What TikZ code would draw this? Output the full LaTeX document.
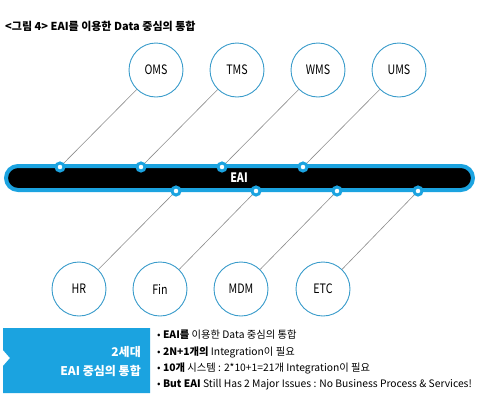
\documentclass[tikz,border=0pt]{standalone}
\usepackage{fontspec}
\setmainfont{Noto Sans CJK KR}
\newfontfamily\narrowfont{Noto Sans CJK KR}[FakeStretch=0.82]
\usepackage{tikz}
\usetikzlibrary{arrows.meta}
\definecolor{eaiblue}{HTML}{1BA3E0}
\definecolor{ringblue}{HTML}{3A9CCB}
\definecolor{linkgray}{HTML}{8C8C8C}
\tikzset{sys/.style={circle, draw=ringblue, line width=0.9pt, fill=white, minimum size=54pt, inner sep=0pt, font=\narrowfont\fontsize{13}{13}\selectfont},
  port/.style={circle, draw=eaiblue, line width=3pt, fill=white, minimum size=8pt, inner sep=0pt},
  link/.style={draw=linkgray, line width=0.6pt},
  item/.style={anchor=west, inner sep=0pt, font=\fontsize{10.3}{10.3}\selectfont}}

\begin{document}
\begin{tikzpicture}[x=1pt,y=-1pt]
\useasboundingbox (0,0) rectangle (488,405);
\node[anchor=west, inner sep=0pt, font=\fontsize{11}{11}\selectfont\bfseries] (title) at (5,26) {<그림 4> EAI를 이용한 Data 중심의 통합};
% bus
\draw[draw=eaiblue, fill=black, line width=4pt, rounded corners=12pt] (6,166) rectangle (473,190);
\node[text=white, font=\narrowfont\fontsize{13}{13}\selectfont\bfseries] (eai) at (239,178) {EAI};
% systems
\node[sys] (oms) at (156,70) {OMS};
\node[sys] (tms) at (237,70) {TMS};
\node[sys] (wms) at (318,70) {WMS};
\node[sys] (ums) at (399,70) {UMS};
\node[sys] (hr) at (79,289) {HR};
\node[sys] (fin) at (160,289) {Fin};
\node[sys] (mdm) at (241,289) {MDM};
\node[sys] (etc) at (323,289) {ETC};
% ports
\node[port] (p1) at (60,167) {};
\node[port] (p2) at (141,167) {};
\node[port] (p3) at (222,167) {};
\node[port] (p4) at (303,167) {};
\node[port] (q1) at (176,191) {};
\node[port] (q2) at (256,191) {};
\node[port] (q3) at (337,191) {};
\node[port] (q4) at (418,191) {};
\foreach \a/\b in {p1/oms,p2/tms,p3/wms,p4/ums,q1/hr,q2/fin,q3/mdm,q4/etc}
  \draw[link] (\a) -- (\b);
% summary box
\fill[eaiblue] (3,328) -- (150,328) -- (150,393) -- (3,393) -- (3,366) -- (10,358) -- (3,350) -- cycle;
\node[anchor=east, inner sep=0pt, text=white, font=\fontsize{12}{12}\selectfont\bfseries] (gen) at (141,352) {2세대};
\node[anchor=east, inner sep=0pt, text=white, font=\fontsize{12}{12}\selectfont\bfseries] (gentitle) at (141,371) {EAI 중심의 통합};
\node[item] (b1) at (157,335) {• \textbf{EAI를} 이용한 Data 중심의 통합};
\node[item] (b2) at (157,352) {• \textbf{2N+1개의} Integration이 필요};
\node[item] (b3) at (157,368) {• \textbf{10개} 시스템 : 2*10+1=21개 Integration이 필요};
\node[item] (b4) at (157,385) {• \textbf{But EAI} Still Has 2 Major Issues : No Business Process \& Services!};
\end{tikzpicture}
\end{document}
